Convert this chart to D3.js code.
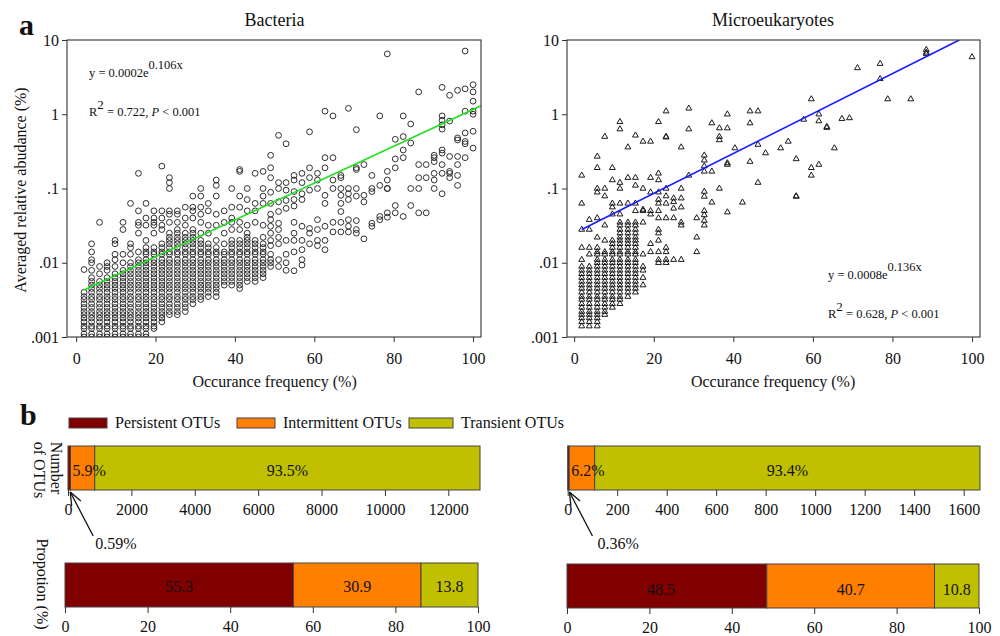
<!DOCTYPE html>
<html>
<head>
<meta charset="utf-8">
<script src="https://cdn.jsdelivr.net/npm/d3@7"></script>
<style>
  body { margin: 0; background: #fff; }
  text { font-family: "Liberation Serif", "Times New Roman", serif; fill: #111; }
</style>
</head>
<body>
<svg></svg>
<script>
'use strict';

// ---- data ----
// panel a: occurrence frequency columns (%) and averaged relative abundance (%) in each column
var bacteriaFreq = [2.0, 3.9, 5.9, 7.8, 9.8, 11.8, 13.7, 15.7, 17.6, 19.6, 21.6, 23.5, 25.5, 27.5, 29.4, 31.4, 33.3,
  35.3, 37.3, 39.2, 41.2, 43.1, 45.1, 47.1, 49.0, 51.0, 52.9, 54.9, 56.9, 58.8, 60.8, 62.7, 64.7, 66.7, 68.6, 70.6,
  72.5, 74.5, 76.5, 78.4, 80.4, 82.4, 84.3, 86.3, 88.2, 90.2, 92.2, 94.1, 96.1, 98.0, 100];
var bacteriaAbund = [
  [.001,.0011,.0013,.0014,.0016,.0018,.002,.0022,.0025,.0028,.0032,.0035,.004,.0081],
  [.001,.0011,.0013,.0014,.0016,.0018,.002,.0022,.0025,.0028,.0032,.0035,.004,.0045,.005,.0056,.0063,.0079,.01,.011,.014,.018],
  [.001,.0011,.0013,.0014,.0016,.0018,.002,.0022,.0025,.0028,.0032,.0035,.004,.0045,.005,.0056,.0071,.0089,.035],
  [.001,.0011,.0013,.0014,.0016,.0018,.002,.0022,.0025,.0028,.0032,.0035,.004,.0045,.005,.0056,.0063,.0079,.0089,.01],
  [.001,.0011,.0013,.0014,.0016,.0018,.002,.0022,.0025,.0028,.0032,.0035,.004,.0045,.005,.0056,.0063,.0071,.0089,.011,.013,.018,.02],
  [.001,.0011,.0013,.0014,.0016,.0018,.002,.0022,.0025,.0028,.0032,.0035,.004,.0045,.005,.0056,.0063,.0071,.0079,.01,.013,.028,.035],
  [.001,.0011,.0013,.0014,.0016,.0018,.002,.0022,.0025,.0028,.0032,.0035,.004,.0045,.005,.0056,.0063,.0071,.0079,.0089,.01,.013,.016,.018,.063],
  [.001,.0011,.0013,.0014,.0016,.0018,.002,.0022,.0025,.0028,.0032,.0035,.004,.0045,.005,.0056,.0063,.0071,.0079,.0089,.01,.011,.014,.025,.032,.035,.05,.16],
  [.001,.0011,.0013,.0014,.0016,.0018,.002,.0022,.0025,.0028,.0032,.0035,.004,.0045,.005,.0056,.0063,.0071,.0079,.0089,.01,.011,.013,.014,.016,.02,.032,.04,.063],
  [.0013,.0014,.0016,.0018,.002,.0022,.0025,.0028,.0032,.0035,.004,.0045,.005,.0056,.0063,.0071,.0079,.0089,.01,.011,.013,.014,.016,.025,.032,.035,.04,.05],
  [.0016,.0018,.002,.0022,.0025,.0028,.0032,.0035,.004,.0045,.005,.0056,.0063,.0071,.0079,.0089,.01,.011,.013,.014,.016,.018,.028,.032,.04,.05,.2],
  [.002,.0022,.0025,.0028,.0032,.0035,.004,.0045,.005,.0056,.0063,.0071,.0079,.0089,.01,.011,.013,.014,.016,.018,.02,.022,.025,.035,.045,.05,.1,.12,.14],
  [.002,.0022,.0025,.0028,.0032,.0035,.004,.0045,.005,.0056,.0063,.0071,.0079,.0089,.01,.011,.013,.014,.016,.018,.02,.022,.025,.028,.035,.045,.05],
  [.0022,.0025,.0028,.0032,.0035,.004,.0045,.005,.0056,.0063,.0071,.0079,.0089,.01,.011,.013,.014,.016,.018,.02,.022,.025,.032,.04,.056],
  [.0028,.0032,.0035,.004,.0045,.005,.0056,.0063,.0071,.0079,.0089,.01,.011,.013,.014,.016,.018,.02,.022,.025,.028,.04,.05,.056,.079],
  [.0032,.0035,.004,.0045,.005,.0056,.0063,.0071,.0079,.0089,.01,.011,.013,.014,.016,.018,.02,.025,.035,.045,.056,.079,.1],
  [.0035,.004,.0045,.005,.0056,.0063,.0071,.0079,.0089,.01,.011,.013,.014,.016,.018,.025,.032,.05,.063],
  [.0035,.004,.0045,.005,.0056,.0063,.0071,.0079,.0089,.01,.011,.013,.014,.016,.02,.032,.045,.079,.11,.13],
  [.005,.0056,.0063,.0071,.0079,.0089,.01,.011,.013,.014,.018,.025,.035,.05],
  [.005,.0056,.0063,.0071,.0079,.0089,.01,.011,.013,.014,.016,.018,.02,.028,.035,.04,.056,.1],
  [.0045,.005,.0056,.0063,.0071,.0079,.0089,.01,.011,.013,.014,.016,.018,.02,.028,.035,.056,.079,.17,.18],
  [.0056,.0063,.0071,.0079,.0089,.01,.011,.013,.014,.016,.018,.02,.022,.025,.032,.05,.071,.1],
  [.0056,.0063,.0071,.0079,.0089,.01,.011,.013,.014,.016,.018,.02,.035,.05,.063,.16],
  [.0063,.0071,.0079,.0089,.01,.011,.013,.014,.016,.018,.022,.032,.063,.079,.1,.17],
  [.0089,.01,.011,.013,.017,.02,.025,.031,.038,.045,.063,.089,.14,.19,.28],
  [.0089,.011,.018,.022,.028,.034,.049,.066,.1,.12,.52],
  [.0079,.01,.013,.02,.054,.069,.095,.12,.4],
  [.0078,.014,.02,.025,.035,.058,.071,.091,.13,.15],
  [.0093,.011,.015,.02,.031,.071,.085,.12,.16],
  [.018,.025,.029,.095,.14,.19,.58],
  [.017,.02,.028,.038,.1,.13,.16],
  [.015,.02,.031,.063,.081,.19,.26,1.1],
  [.026,.035,.1,.13,.26,.95],
  [.026,.035,.049,.063,.081,.1,.14,.15],
  [.026,.031,.038,.071,.085,.1,1.2],
  [.025,.028,.037,.079,.1,.18,.19,.62],
  [.021,.066,.081,.21],
  [.031,.034,.091,.1,.15],
  [.038,.042,.11,.95],
  [.041,.047,.1,.1,.13,.17,6.5],
  [.047,.059,.19,.25,.46],
  [.042,.26,.33,.5,.95],
  [.059,.1,.41,.74],
  [.047,.1,.14,.21,2.0],
  [.047,.14,.21],
  [.1,.13,.16,.23,.26,.28],
  [.085,.16,.21,.3,.33,.63,.72,.83,.95,2.3],
  [.14,.16,.17,.27,.81,1.8],
  [.11,.15,.21,.27,.45,.48,2.1],
  [.26,.4,.43,.56,1.1,2.2,7.1],
  [.35,.59,1.0,1.1,1.5,2.0,2.5]
];
var microFreq = [1.9, 3.8, 5.8, 7.7, 9.6, 11.5, 13.5, 15.4, 17.3, 19.2, 21.2, 23.1, 25.0, 26.9, 28.8, 30.8, 32.7,
  34.6, 36.5, 38.5, 40.4, 42.3, 44.2, 46.2, 48.1, 51.9, 53.8, 55.8, 57.7, 59.6, 61.5, 63.5, 65.4, 67.3, 69.2, 71.2,
  76.9, 78.8, 84.6, 88.5, 100];
var microAbund = [
  [.0014,.0016,.0018,.002,.0022,.0025,.0028,.0032,.0035,.004,.0045,.005,.0056,.0063,.0071,.0079,.0089,.011,.016,.028,.063,.15],
  [.0014,.0016,.0018,.002,.0022,.0025,.0028,.0032,.0035,.004,.0045,.005,.0056,.0063,.0071,.0079,.0089,.013,.016,.028,.038],
  [.0014,.0016,.0018,.002,.0022,.0025,.0028,.0032,.0035,.004,.0045,.005,.0056,.0063,.0071,.0079,.0089,.01,.011,.013,.014,.016,.022,.04,.089,.1,.19,.27],
  [.002,.0022,.0025,.0028,.0032,.0035,.004,.0045,.005,.0056,.0063,.0071,.0079,.0089,.01,.011,.013,.014,.02,.032,.079,.1,.5],
  [.0025,.0028,.0032,.0035,.004,.0045,.005,.0056,.0063,.0071,.0079,.0089,.01,.011,.013,.014,.016,.018,.02,.045,.056,.063,.13,.19],
  [.0028,.0032,.0035,.004,.0045,.005,.0056,.0063,.0071,.0079,.0089,.01,.011,.013,.014,.016,.018,.02,.022,.025,.028,.032,.035,.045,.063,.1,.12,.63,.79],
  [.0035,.004,.0045,.005,.0056,.0063,.0071,.0079,.0089,.01,.011,.013,.014,.016,.018,.02,.022,.025,.028,.032,.035,.063,.14,.36],
  [.004,.0045,.005,.0056,.0063,.0071,.0079,.0089,.01,.011,.013,.014,.016,.018,.02,.022,.025,.028,.032,.035,.05,.063,.11,.14,.52],
  [.005,.0063,.0079,.0089,.013,.035,.05,.052,.1,.43],
  [.014,.018,.045,.05,.089,.14,.43],
  [.01,.011,.014,.02,.025,.028,.04,.05,.063,.071,.089,.13,.16,.79],
  [.01,.011,.014,.016,.04,.063,.079,.1,.49,.5,1.1],
  [.011,.04,.054,.066,.074],
  [.011,.032,.035,.056,.074,.1,.36],
  [.15,.63,1.2],
  [.014,.022,.04],
  [.032,.037,.044,.05,.078,.091,.17,.2,.24,.28],
  [.065,.17,.76],
  [.1,.45,.5,.65],
  [.048,.21,.22,.65,1.0],
  [.35],
  [.065],
  [.23,.76,1.1],
  [.12,.39,1.1],
  [.3],
  [.35],
  [.43],
  [.078,.079,.25],
  [.85],
  [.15,.19,1.6],
  [.21,.81,1.0],
  [.66,.68],
  [.35],
  [.87],
  [.89],
  [4.2],
  [3.0,4.8],
  [1.6],
  [1.6],
  [6.5,6.8,7.4],
  [5.9]
];

// fitted exponential trend lines (end points)
var bacteriaFitX = [2, 102];
var bacteriaFitY = [0.0043, 1.3];
var microFitX = [1.9, 96.8];
var microFitY = [0.028, 10];

var xTickValues = [0, 20, 40, 60, 80, 100];
var yTickValues = [0.001, 0.01, 0.1, 1, 10];
var yTickLabels = ['.001', '.01', '.1', '1', '10'];

// panel b
var categories = ['Persistent OTUs', 'Intermittent OTUs', 'Transient OTUs'];
var bacteriaCounts = [77, 767, 12156];
var microCounts = [6, 103, 1557];
var bacteriaCountLabels = ['0.59%', '5.9%', '93.5%'];
var microCountLabels = ['0.36%', '6.2%', '93.4%'];
var bacteriaCountTicks = [0, 2000, 4000, 6000, 8000, 10000, 12000];
var microCountTicks = [0, 200, 400, 600, 800, 1000, 1200, 1400, 1600];
var bacteriaProportion = [55.3, 30.9, 13.8];
var microProportion = [48.5, 40.7, 10.8];
var proportionTicks = [0, 20, 40, 60, 80, 100];

var COLORS = ['#800000', '#ff8000', '#c0c000'];

var SVG_SIZE = {width: 1000, height: 636};
var svg = d3.select('svg').attr('width', SVG_SIZE.width).attr('height', SVG_SIZE.height);

var yScale = d3.scaleLog().domain([0.001, 10]).range([337, 40]);

function styleAxis(g, size) {
  g.select('.domain').remove();
  g.selectAll('line').attr('stroke', '#333');
  g.selectAll('text').attr('font-size', size).attr('font-family', '"Liberation Serif", serif').attr('fill', '#111');
}

function drawScatter(p) {
  var xScale = d3.scaleLinear().domain(p.xDomain).range([p.left, p.right]);
  var points = [];
  p.freq.forEach(function(f, i) {
    p.abund[i].forEach(function(a) { points.push({x: f, y: a}); });
  });

  var clipId = 'clip-' + p.id;
  svg.append('clipPath').attr('id', clipId).append('rect')
    .attr('x', p.left).attr('y', 40).attr('width', p.right - p.left).attr('height', 297);

  var g = svg.append('g').attr('clip-path', 'url(#' + clipId + ')');
  if (p.marker === 'circle') {
    g.selectAll('circle').data(points).enter().append('circle')
      .attr('cx', function(d) { return xScale(d.x); })
      .attr('cy', function(d) { return yScale(d.y); })
      .attr('r', 2.9)
      .attr('fill', 'none')
      .attr('stroke', '#1a1a1a')
      .attr('stroke-width', 0.9);
  } else {
    var tri = d3.symbol(d3.symbolTriangle, 15);
    g.selectAll('path.pt').data(points).enter().append('path')
      .attr('class', 'pt')
      .attr('d', tri)
      .attr('transform', function(d) { return 'translate(' + xScale(d.x) + ',' + yScale(d.y) + ')'; })
      .attr('fill', 'none')
      .attr('stroke', '#1a1a1a')
      .attr('stroke-width', 1);
  }

  var fit = p.fitX.map(function(x, i) { return [x, p.fitY[i]]; });
  g.append('path').datum(fit)
    .attr('d', d3.line().x(function(d) { return xScale(d[0]); }).y(function(d) { return yScale(d[1]); }))
    .attr('fill', 'none').attr('stroke', p.fitColor).attr('stroke-width', 1.6);

  svg.append('rect').attr('x', p.left).attr('y', 40)
    .attr('width', p.right - p.left).attr('height', 297)
    .attr('fill', 'none').attr('stroke', '#444').attr('stroke-width', 1.2);

  svg.append('g').attr('transform', 'translate(0,337)')
    .call(d3.axisBottom(xScale).tickValues(xTickValues).tickSize(5).tickPadding(11))
    .call(styleAxis, 16);
  svg.append('g').attr('transform', 'translate(' + p.left + ',0)')
    .call(d3.axisLeft(yScale).tickValues(yTickValues).tickSize(5).tickPadding(3)
      .tickFormat(function(d, i) { return yTickLabels[i]; }))
    .call(styleAxis, 16);

  svg.append('text').attr('x', (xScale(0) + xScale(100)) / 2).attr('y', 26)
    .attr('text-anchor', 'middle').attr('font-size', 18).text(p.title);
  svg.append('text').attr('x', (xScale(0) + xScale(100)) / 2).attr('y', 387)
    .attr('text-anchor', 'middle').attr('font-size', 16).text('Occurance frequency (%)');

  var eq = svg.append('text').attr('x', p.eqX).attr('y', p.eqY).attr('font-size', 12.5);
  eq.append('tspan').text(p.eqA);
  eq.append('tspan').attr('dy', -8).attr('font-size', 12.5).text(p.eqB);
  var r2 = svg.append('text').attr('x', p.eqX).attr('y', p.eqY + 39).attr('font-size', 12.5);
  r2.append('tspan').text('R');
  r2.append('tspan').attr('dy', -7).attr('font-size', 13).text('2');
  r2.append('tspan').attr('dy', 7).text(' = ' + p.r2 + ', ');
  r2.append('tspan').attr('font-style', 'italic').text('P');
  r2.append('tspan').text(' < 0.001');
}

drawScatter({id: 'bac', left: 67, right: 481, xDomain: [-2.3, 102], freq: bacteriaFreq, abund: bacteriaAbund,
  marker: 'circle', fitX: bacteriaFitX, fitY: bacteriaFitY, fitColor: '#22e022', title: 'Bacteria',
  eqX: 89, eqY: 77, eqA: 'y = 0.0002e', eqB: '0.106x', r2: '0.722'});
drawScatter({id: 'mic', left: 567, right: 980, xDomain: [-1.8, 102], freq: microFreq, abund: microAbund,
  marker: 'triangle', fitX: microFitX, fitY: microFitY, fitColor: '#1a1aff', title: 'Microeukaryotes',
  eqX: 828, eqY: 279, eqA: 'y = 0.0008e', eqB: '0.136x', r2: '0.628'});

svg.append('text').attr('transform', 'translate(26,190) rotate(-90)')
  .attr('text-anchor', 'middle').attr('font-size', 16).text('Averaged relative abudance (%)');

svg.append('text').attr('x', 19).attr('y', 35).attr('font-size', 30).attr('font-weight', 'bold').text('a');
svg.append('text').attr('x', 20).attr('y', 425).attr('font-size', 30).attr('font-weight', 'bold').text('b');

// legend
var legendX = [69, 237, 409];
var legend = svg.append('g').selectAll('g').data(categories).enter().append('g')
  .attr('transform', function(d, i) { return 'translate(' + legendX[i] + ',418)'; });
legend.append('rect').attr('width', function(d, i) { return i === 2 ? 44 : 38; }).attr('height', 10)
  .attr('fill', function(d, i) { return COLORS[i]; }).attr('stroke', '#444').attr('stroke-width', 1);
legend.append('text').attr('x', function(d, i) { return i === 2 ? 52 : 46; }).attr('y', 10)
  .attr('font-size', 16).text(function(d) { return d; });

function drawBar(p) {
  var total = d3.sum(p.values);
  var x = d3.scaleLinear().domain([0, p.max || total]).range([p.left, p.right]);
  var ends = Array.from(d3.cumsum(p.values));
  var starts = [0].concat(ends.slice(0, -1));
  var g = svg.append('g');
  g.selectAll('rect').data(p.values).enter().append('rect')
    .attr('x', function(d, i) { return x(starts[i]); })
    .attr('width', function(d, i) { return x(ends[i]) - x(starts[i]); })
    .attr('y', p.top).attr('height', p.height)
    .attr('fill', function(d, i) { return COLORS[i]; })
    .attr('stroke', '#444').attr('stroke-width', 1);

  svg.append('g').attr('transform', 'translate(0,' + (p.top + p.height) + ')')
    .call(d3.axisBottom(x).tickValues(p.ticks).tickSize(6).tickPadding(8).tickFormat(d3.format('d')))
    .call(styleAxis, 16);

  p.labels.forEach(function(lab, i) {
    if (lab.skip) return;
    var t = svg.append('text').attr('y', p.labelY).attr('font-size', 16).text(lab.text);
    if (lab.start) t.attr('x', x(starts[i]) + 2);
    else t.attr('x', (x(starts[i]) + x(ends[i])) / 2 + (lab.dx || 0)).attr('text-anchor', 'middle');
  });
  return {x: x, starts: starts, ends: ends};
}

function drawArrow(bar, label, dx) {
  var tipX = bar.x(bar.ends[0] / 2) + 1;
  var tipY = 492;
  var tailX = tipX + 23, tailY = 536;
  var ang = Math.atan2(tailY - tipY, tailX - tipX);
  var g = svg.append('g').attr('stroke', '#111').attr('stroke-width', 1.3).attr('fill', 'none');
  g.append('line').attr('x1', tailX).attr('y1', tailY).attr('x2', tipX).attr('y2', tipY);
  [-0.38, 0.38].forEach(function(a) {
    g.append('line').attr('x1', tipX).attr('y1', tipY)
      .attr('x2', tipX + 14 * Math.cos(ang + a)).attr('y2', tipY + 14 * Math.sin(ang + a));
  });
  svg.append('text').attr('x', tailX + dx).attr('y', 549).attr('font-size', 16).text(label);
}

var bTop = drawBar({left: 68, right: 480, top: 446, height: 44, values: bacteriaCounts, ticks: bacteriaCountTicks,
  labelY: 476, labels: [{skip: true}, {text: bacteriaCountLabels[1], start: true}, {text: bacteriaCountLabels[2]}]});
drawArrow(bTop, bacteriaCountLabels[0], 2);
var mTop = drawBar({left: 567.7, right: 980, top: 446, height: 44, values: microCounts, ticks: microCountTicks,
  labelY: 476, labels: [{skip: true}, {text: microCountLabels[1], start: true}, {text: microCountLabels[2]}]});
drawArrow(mTop, microCountLabels[0], 5);

drawBar({left: 65, right: 478, top: 563, height: 44, max: 100, values: bacteriaProportion, ticks: proportionTicks,
  labelY: 592, labels: bacteriaProportion.map(function(v) { return {text: d3.format('.1f')(v)}; })});
drawBar({left: 567, right: 979, top: 564, height: 44, max: 100, values: microProportion, ticks: proportionTicks,
  labelY: 595, labels: microProportion.map(function(v, i) { return {text: d3.format('.1f')(v), dx: i === 0 ? -6 : 0}; })});

svg.append('text').attr('transform', 'translate(51,468) rotate(90)')
  .attr('text-anchor', 'middle').attr('font-size', 16).text('Number');
svg.append('text').attr('transform', 'translate(34,470) rotate(90)')
  .attr('text-anchor', 'middle').attr('font-size', 16).text('of OTUs');
svg.append('text').attr('transform', 'translate(37,584) rotate(90)')
  .attr('text-anchor', 'middle').attr('font-size', 16).text('Propotion (%)');
</script>
</body>
</html>
